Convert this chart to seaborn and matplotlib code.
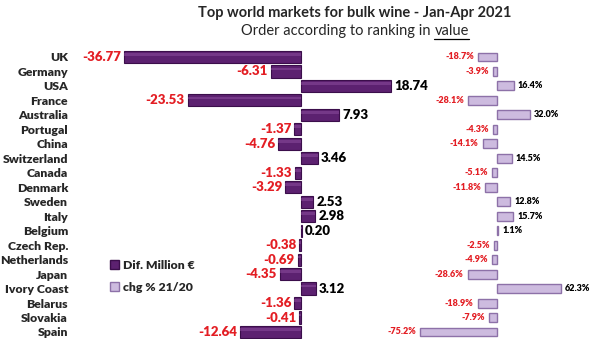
import matplotlib
matplotlib.use("Agg")
import matplotlib.pyplot as plt
from matplotlib.patches import Patch
import seaborn as sns
import pandas as pd

countries = ["UK", "Germany", "USA", "France", "Australia", "Portugal", "China",
             "Switzerland", "Canada", "Denmark", "Sweden", "Italy", "Belgium",
             "Czech Rep.", "Netherlands", "Japan", "Ivory Coast", "Belarus",
             "Slovakia", "Spain"]
dif_million = [-36.77, -6.31, 18.74, -23.53, 7.93, -1.37, -4.76, 3.46, -1.33, -3.29,
               2.53, 2.98, 0.20, -0.38, -0.69, -4.35, 3.12, -1.36, -0.41, -12.64]
chg_pct = [-18.7, -3.9, 16.4, -28.1, 32.0, -4.3, -14.1, 14.5, -5.1, -11.8,
           12.8, 15.7, 1.1, -2.5, -4.9, -28.6, 62.3, -18.9, -7.9, -75.2]

title = "Top world markets for bulk wine - Jan-Apr 2021"
subtitle_a = "Order according to ranking in "
subtitle_b = "value"
legend_labels = ["Dif. Million €", "chg % 21/20"]

df = pd.DataFrame({"country": countries, "dif": dif_million, "chg": chg_pct})

sns.set_style("white")
plt.rcParams["font.family"] = ["Lato", "DejaVu Sans"]

DARK = "#5C2170"
DARK_EDGE = "#3B0E4B"
LIGHT = "#CDBBDF"
LIGHT_EDGE = "#8D71A8"
RED = "#E31E24"
BW = "heavy"

W, H = 600, 343
fig = plt.figure(figsize=(6, 3.43), dpi=100)

n = len(countries)
row = (332 - 57) / (n - 1)
ytop = 57 - row / 2
ybot = 57 + (n - 0.5) * row

def axrect(x0, x1):
    return [x0 / W, 1 - ybot / H, (x1 - x0) / W, (ybot - ytop) / H]

# left panel: zero at 301 px, UK bar left end at 124 px
l0, l1 = 75, 420
sc = (301 - 124) / 36.77
axL = fig.add_axes(axrect(l0, l1))
axL.set_facecolor("none")
sns.barplot(data=df, x="dif", y="country", orient="h", ax=axL, color=DARK,
            edgecolor=DARK_EDGE, linewidth=0.8, width=0.84, saturation=1)
axL.set_xlim(-(301 - l0) / sc, (l1 - 301) / sc)
axL.set_ylim(n - 0.5, -0.5)
for p in list(axL.patches):
    x, y, w, h = p.get_x(), p.get_y(), p.get_width(), p.get_height()
    axL.add_patch(plt.Rectangle((x, y + h * 0.18), w, h * 0.22, color="#8A4C9C",
                                lw=0, alpha=0.55, zorder=p.get_zorder() + 0.1))
for i, v in enumerate(dif_million):
    off = 3 / sc
    if v < 0:
        axL.text(v - off, i, f"{v:.2f}", ha="right", va="center", color=RED,
                 fontsize=9.5, fontweight=BW, clip_on=False)
    else:
        axL.text(v + off, i, f"{v:.2f}", ha="left", va="center", color="black",
                 fontsize=9.5, fontweight=BW, clip_on=False)
axL.set_xlabel("")
axL.set_ylabel("")
axL.set_xticks([])
axL.tick_params(axis="y", length=0, pad=5)
for t in axL.get_yticklabels():
    t.set_fontweight(BW)
    t.set_fontsize(8.8)
for s in axL.spines.values():
    s.set_visible(False)

# right panel: zero at 497 px, Spain bar left end at 420 px
r0, r1 = 380, 600
sr = (497 - 420) / 75.2
axR = fig.add_axes(axrect(r0, r1))
axR.set_facecolor("none")
sns.barplot(data=df, x="chg", y="country", orient="h", ax=axR, color=LIGHT,
            edgecolor=LIGHT_EDGE, linewidth=1.0, width=0.62, saturation=1)
axR.set_xlim(-(497 - r0) / sr, (r1 - 497) / sr)
axR.set_ylim(n - 0.5, -0.5)
for i, v in enumerate(chg_pct):
    off = 4 / sr
    if v < 0:
        axR.text(v - off, i, f"{v:.1f}%", ha="right", va="center", color=RED,
                 fontsize=6.5, fontweight=BW, clip_on=False)
    else:
        axR.text(v + off, i, f"{v:.1f}%", ha="left", va="center", color="black",
                 fontsize=6.5, fontweight=BW, clip_on=False)
axR.set_axis_off()

# titles
fig.text(355 / W, 1 - 13 / H, title, ha="center", va="center", fontsize=10.5,
         fontweight="bold")
t1 = fig.text(355 / W, 1 - 31 / H, subtitle_a + subtitle_b, ha="center",
              va="center", fontsize=10.5, alpha=0)
fig.canvas.draw()
bb = t1.get_window_extent()
ta = fig.text(bb.x0 / W, 1 - 31 / H, subtitle_a, ha="left", va="center",
              fontsize=10.5)
fig.canvas.draw()
bba = ta.get_window_extent()
tb = fig.text(bba.x1 / W, 1 - 31 / H, subtitle_b, ha="left", va="center",
              fontsize=10.5)
fig.canvas.draw()
bbb = tb.get_window_extent()
uy = bbb.y0 - 1
fig.add_artist(plt.Line2D([bbb.x0 / W, bbb.x1 / W], [uy / H, uy / H],
                          color="black", lw=0.9))

handles = [Patch(facecolor=DARK, edgecolor=DARK_EDGE),
           Patch(facecolor=LIGHT, edgecolor=LIGHT_EDGE)]
leg = fig.legend(handles, legend_labels, loc="upper left",
                 bbox_to_anchor=(99 / W, 1 - 249 / H), frameon=False,
                 handlelength=0.7, handleheight=0.7, handletextpad=0.35,
                 labelspacing=0.9, prop={"weight": BW, "size": 8.8})

fig.savefig("out.png", dpi=100)
